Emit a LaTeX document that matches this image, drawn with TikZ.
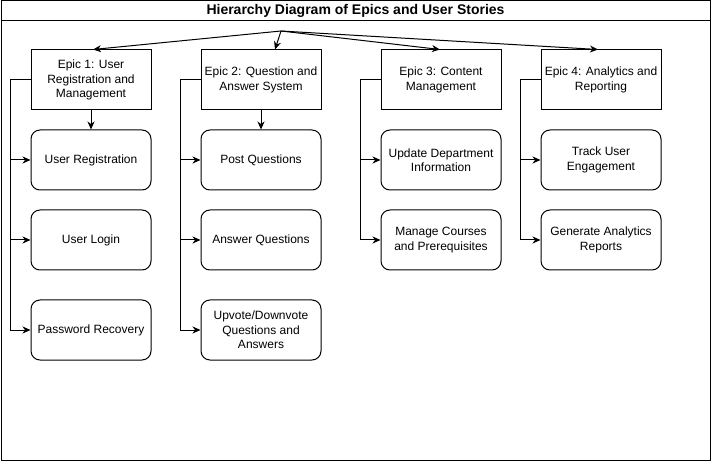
\documentclass[tikz,border=0pt]{standalone}
\usepackage{fontspec}
\setmainfont{Liberation Sans}
\usetikzlibrary{arrows.meta}
\begin{document}
\begin{tikzpicture}[x=1pt,y=-1pt,
  every node/.style={font=\fontsize{12}{14.4}\selectfont, align=center, inner sep=0pt},
  epic/.style={draw, line width=1pt, minimum width=120pt, minimum height=60pt},
  story/.style={draw, line width=1pt, rounded corners=9pt, minimum width=120pt, minimum height=60pt},
  arr/.style={line width=1pt, -{Stealth[length=8pt,width=7pt,inset=2.5pt]}}]
\useasboundingbox (0,0) rectangle (712,462);
\draw[line width=1pt] (1,1) rectangle (710,460);
\draw[line width=1pt] (1,20.5) -- (710,20.5);
\node[font=\fontsize{14}{16}\selectfont\bfseries] (title) at (355.5,11) {Hierarchy Diagram of Epics and User Stories};
\coordinate (root) at (281,31);
% epics
\node[epic] (e1) at (91,80) {Epic 1: User\\Registration and\\Management};
\node[epic] (e2) at (261,80) {Epic 2: Question and\\Answer System};
\node[epic] (e3) at (441,80) {Epic 3: Content\\Management};
\node[epic] (e4) at (601,80) {Epic 4: Analytics and\\Reporting};
% stories
\node[story] (s11) at (91,160) {User Registration};
\node[story] (s12) at (91,240) {User Login};
\node[story] (s13) at (91,330) {Password Recovery};
\node[story] (s21) at (261,160) {Post Questions};
\node[story] (s22) at (261,240) {Answer Questions};
\node[story] (s23) at (261,330) {Upvote/Downvote\\Questions and\\Answers};
\node[story] (s31) at (441,160) {Update Department\\Information};
\node[story] (s32) at (441,240) {Manage Courses\\and Prerequisites};
\node[story] (s41) at (601,160) {Track User\\Engagement};
\node[story] (s42) at (601,240) {Generate Analytics\\Reports};
% top arrows
\draw[arr] (root) -- ([xshift=2pt]e1.north);
\draw[arr] (root) -- ([xshift=14pt]e2.north);
\draw[arr] (root) -- ([xshift=-1pt]e3.north);
\draw[arr] (root) -- ([xshift=-3pt]e4.north);
% vertical arrows
\draw[arr] (e1.south) -- (s11.north);
\draw[arr] (e2.south) -- (s21.north);
% brackets
\foreach \e/\s in {e1/s11,e1/s12,e1/s13,e2/s21,e2/s22,e2/s23,e3/s31,e3/s32,e4/s41,e4/s42}{
  \draw[arr] (\e.west) -- ++(-20,0) |- (\s.west);
}
\end{tikzpicture}
\end{document}
